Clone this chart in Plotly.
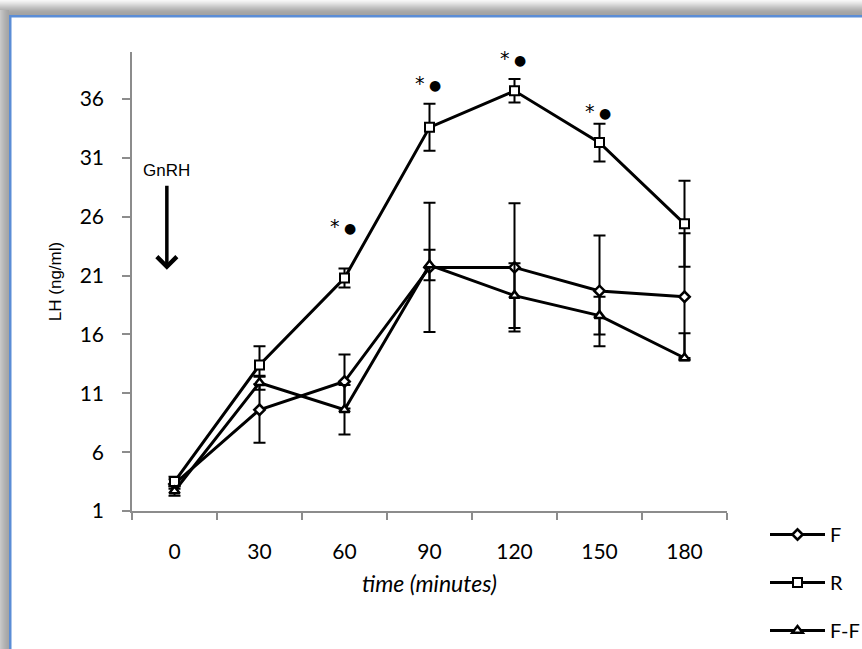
import plotly.graph_objects as go

# Sampling times (minutes after GnRH injection)
times = ["0", "30", "60", "90", "120", "150", "180"]

# Mean LH (ng/ml) and error values per group
lh_f = [3.3, 9.6, 12.0, 21.7, 21.7, 19.7, 19.2]
err_f = [0.4, 2.8, 2.3, 5.5, 5.45, 4.7, 5.4]

lh_r = [3.5, 13.4, 20.8, 33.6, 36.7, 32.3, 25.4]
err_r = [0.4, 1.6, 0.8, 2.0, 1.0, 1.6, 3.65]

lh_ff = [2.7, 11.9, 9.6, 21.9, 19.3, 17.6, 14.0]
err_ff_plus = [0.4, 0.6, 2.1, 1.3, 2.75, 1.6, 2.1]
err_ff_minus = [0.4, 0.6, 2.1, 1.3, 2.75, 1.6, 0.0]

# Significance marks placed above the R curve
sig_times = ["60", "90", "120", "150"]
sig_y = [25.2, 37.4, 39.5, 35.0]

y_ticks = [1, 6, 11, 16, 21, 26, 31, 36]

W, H = 862, 649
ML, MR, MT, MB = 132, 135, 52, 138
PW, PH = W - ML - MR, H - MT - MB

TICK_FONT = "Lato, Calibri, sans-serif"
ARIAL = "Liberation Sans, Arial, sans-serif"


def px_x(px):
    return (px - ML) / PW


def px_y(py):
    return (H - MB - py) / PH


fig = go.Figure()


def add_series(name, y, plus, minus, symbol, size, lw):
    fig.add_trace(go.Scatter(
        x=list(range(len(times))), y=y, name=name, mode="lines+markers",
        legendgroup=name,
        line=dict(color="black", width=3),
        marker=dict(symbol=symbol, size=size, color="white",
                    line=dict(color="black", width=lw)),
        error_y=dict(type="data", array=plus, arrayminus=minus,
                     symmetric=False, color="black", thickness=2, width=6),
    ))


add_series("F", lh_f, err_f, err_f, "diamond", 8, 2.5)
add_series("R", lh_r, err_r, err_r, "square", 9, 2)
add_series("F-F", lh_ff, err_ff_plus, err_ff_minus, "triangle-up", 9, 2.5)

annotations = []
for t, yv in zip(sig_times, sig_y):
    annotations.append(dict(
        x=times.index(t), y=yv, xref="x", yref="y", showarrow=False,
        xshift=-2,
        text="*<span style='font-size:14px'> ●</span>",
        font=dict(family="DejaVu Sans", size=19, color="black"),
    ))

# GnRH injection arrow
annotations.append(dict(
    x=-0.09, y=21.5, xref="x", yref="y",
    ax=0, ay=-99, axref="pixel", ayref="pixel",
    text="GnRH", showarrow=True,
    arrowhead=4, arrowsize=1.1, arrowwidth=3.5, arrowcolor="black",
    standoff=0, startstandoff=4,
    font=dict(family=ARIAL, size=17, color="black"),
))

# Window frame: soft shadow with a blue edge on the top and left sides
shapes = []
top_shades = ["#f6f6f6", "#f0f0f0", "#e9e9e9", "#e2e2e2", "#dadada",
              "#d2d2d2", "#cacaca", "#c2c2c2", "#bbbbbb", "#b4b4b4",
              "#aeaeae", "#a9a9a9", "#a6a6a6", "#a4a4a4", "#a2a2a2"]
for i, c in enumerate(top_shades):
    shapes.append(dict(type="rect", xref="paper", yref="paper",
                       x0=px_x(0), x1=px_x(W), y0=px_y(i + 1), y1=px_y(i),
                       fillcolor=c, line=dict(width=0), layer="above"))
left_shades = ["#c8c8c8", "#c2c2c2", "#bdbdbd", "#b8b8b8", "#b3b3b3",
               "#afafaf", "#ababab", "#a8a8a8", "#a5a5a5"]
for i, c in enumerate(left_shades):
    shapes.append(dict(type="rect", xref="paper", yref="paper",
                       x0=px_x(i), x1=px_x(i + 1), y0=px_y(H), y1=px_y(10),
                       fillcolor=c, line=dict(width=0), layer="above"))
shapes.append(dict(type="rect", xref="paper", yref="paper",
                   x0=px_x(9), x1=px_x(W), y0=px_y(17.5), y1=px_y(15),
                   fillcolor="#5b8dd6", line=dict(width=0), layer="above"))
shapes.append(dict(type="rect", xref="paper", yref="paper",
                   x0=px_x(9), x1=px_x(11.5), y0=px_y(H), y1=px_y(15),
                   fillcolor="#5b8dd6", line=dict(width=0), layer="above"))

fig.update_layout(
    width=W, height=H,
    margin=dict(l=ML, r=MR, t=MT, b=MB, pad=0, autoexpand=False),
    paper_bgcolor="white", plot_bgcolor="white",
    showlegend=True,
    legend=dict(
        x=px_x(765), y=px_y(515), xanchor="left", yanchor="top",
        font=dict(family=TICK_FONT, size=20, color="black"),
        traceorder="grouped", tracegroupgap=19, itemwidth=55,
        bgcolor="rgba(0,0,0,0)",
    ),
    xaxis=dict(
        tickmode="array", tickvals=list(range(len(times))), ticktext=times,
        ticks="", showgrid=False, zeroline=False,
        minor=dict(ticks="outside", tick0=0.5, dtick=1, ticklen=7,
                   tickwidth=1.5, tickcolor="#8c8c8c", showgrid=False),
        showline=True, linecolor="#8c8c8c", linewidth=1.5,
        ticklabelstandoff=21,
        tickfont=dict(family=TICK_FONT, size=21, color="black"),
        title=dict(text="<i>time (minutes)</i>", standoff=14,
                   font=dict(family=TICK_FONT, size=23, color="black")),
        range=[-0.5, 6.5],
    ),
    yaxis=dict(
        range=[1, 40], tickvals=y_ticks, ticks="outside",
        ticklen=8, tickwidth=1.5, tickcolor="#8c8c8c",
        showline=True, linecolor="#8c8c8c", linewidth=1.5,
        showgrid=False, zeroline=False,
        ticklabelstandoff=14,
        tickfont=dict(family=TICK_FONT, size=21, color="black"),
        title=dict(text="LH (ng/ml)", standoff=14,
                   font=dict(family=ARIAL, size=17, color="black")),
    ),
    annotations=annotations,
    shapes=shapes,
)

fig.write_html("out.html")
